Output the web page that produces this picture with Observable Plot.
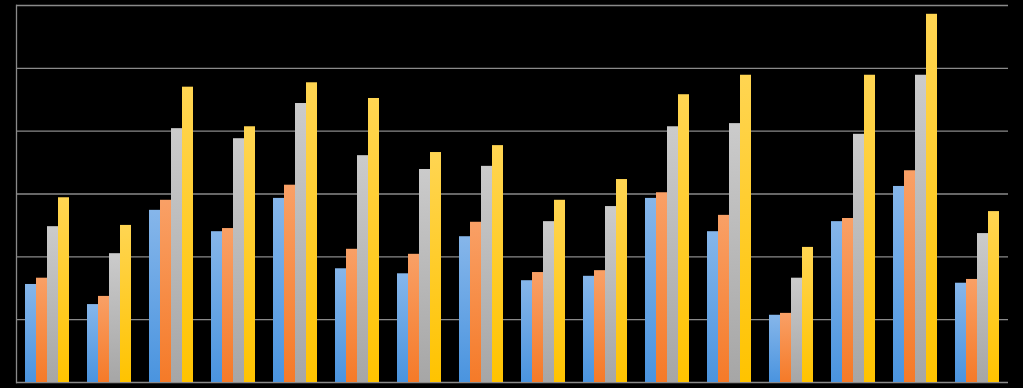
<!DOCTYPE html>
<html>
<head>
<meta charset="utf-8">
<script src="https://cdn.jsdelivr.net/npm/d3@7"></script>
<script src="https://cdn.jsdelivr.net/npm/@observablehq/plot@0.6"></script>
<style>
  html, body { margin: 0; padding: 0; background: #000; }
  #chart { width: 1023px; height: 388px; }
</style>
</head>
<body>
<div id="chart"></div>
<script>
const groups = ["G1","G2","G3","G4","G5","G6","G7","G8","G9","G10","G11","G12","G13","G14","G15","G16"];
const seriesNames = ["S1","S2","S3","S4"];
const s1 = [1.56, 1.24, 2.74, 2.40, 2.93, 1.81, 1.73, 2.32, 1.62, 1.69, 2.93, 2.40, 1.07, 2.56, 3.12, 1.58];
const s2 = [1.66, 1.37, 2.90, 2.45, 3.14, 2.12, 2.04, 2.55, 1.75, 1.78, 3.02, 2.66, 1.10, 2.61, 3.37, 1.64];
const s3 = [2.48, 2.05, 4.04, 3.88, 4.44, 3.61, 3.39, 3.44, 2.56, 2.80, 4.07, 4.12, 1.66, 3.95, 4.89, 2.37];
const s4 = [2.94, 2.50, 4.70, 4.07, 4.77, 4.52, 3.66, 3.77, 2.90, 3.23, 4.58, 4.89, 2.15, 4.89, 5.86, 2.72];
const yTicks = [0, 1, 2, 3, 4, 5, 6];

const seriesValues = [s1, s2, s3, s4];
const gradIds = ["gBlue", "gOrange", "gGray", "gYellow"];
const gradStops = [
  ["#86b6ea", "#4a94df"],
  ["#f9a066", "#f57a28"],
  ["#cbcbcb", "#a6a6a6"],
  ["#ffd552", "#ffc300"]
];

const data = [];
groups.forEach((g, gi) => {
  seriesNames.forEach((s, si) => {
    data.push({group: g, series: s, value: seriesValues[si][gi], fill: `url(#${gradIds[si]})`});
  });
});

const plot = Plot.plot({
  width: 1023,
  height: 388,
  marginLeft: 14,
  marginRight: 13,
  marginTop: 5,
  marginBottom: 6,
  style: {background: "#000", overflow: "visible"},
  fx: {domain: groups, padding: 0, axis: null},
  x: {domain: seriesNames, paddingInner: 0, paddingOuter: 0.76, axis: null},
  y: {domain: [0, 6], axis: null},
  color: {type: "identity"},
  facet: {data: data, x: "group"},
  marks: [
    Plot.ruleY(yTicks, {stroke: "#8a8a8a", strokeWidth: 1.3}),
    Plot.frame({anchor: "left", facet: "super", stroke: "#8a8a8a", strokeWidth: 1.3}),
    Plot.barY(data, {x: "series", y: "value", fill: "fill", inset: 0})
  ]
});

const ns = "http://www.w3.org/2000/svg";
const defs = document.createElementNS(ns, "defs");
gradIds.forEach((id, i) => {
  const lg = document.createElementNS(ns, "linearGradient");
  lg.setAttribute("id", id);
  lg.setAttribute("x1", "0"); lg.setAttribute("y1", "0");
  lg.setAttribute("x2", "0"); lg.setAttribute("y2", "1");
  [[0, gradStops[i][0]], [1, gradStops[i][1]]].forEach(([o, c]) => {
    const st = document.createElementNS(ns, "stop");
    st.setAttribute("offset", o);
    st.setAttribute("stop-color", c);
    lg.appendChild(st);
  });
  defs.appendChild(lg);
});
plot.insertBefore(defs, plot.firstChild);
document.getElementById("chart").appendChild(plot);
</script>
</body>
</html>
